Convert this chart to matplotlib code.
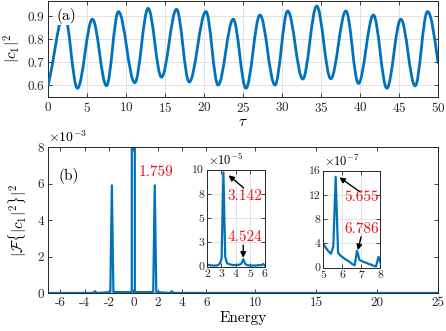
import numpy as np
import matplotlib
matplotlib.use("Agg")
import matplotlib.pyplot as plt
from matplotlib.path import Path
from matplotlib.patches import PathPatch

plt.rcParams['font.family'] = 'cmr10'
plt.rcParams['mathtext.fontset'] = 'cm'
plt.rcParams['axes.unicode_minus'] = False
plt.rcParams['axes.formatter.use_mathtext'] = True

blue = '#0072BD'
red = '#e8141c'

# ---- (a) |c1|^2 vs tau : extrema ----
tau_pts = [0, 2.1, 3.77, 5.7, 7.5, 9.03, 11.13, 12.84, 14.55, 16.48, 18.1, 20.25,
           21.8, 23.75, 25.38, 27.18, 29.1, 30.73, 32.66, 34.45, 36.25, 38.2,
           39.8, 41.72, 43.44, 45.24, 47.07, 48.65, 50]
c1_pts = [0.60, 0.91, 0.586, 0.886, 0.597, 0.919, 0.61, 0.933, 0.634, 0.929,
          0.613, 0.919, 0.60, 0.886, 0.586, 0.904, 0.60, 0.922, 0.626, 0.943,
          0.627, 0.922, 0.607, 0.904, 0.586, 0.886, 0.596, 0.919, 0.697]
# slope of the curve at each point (0 at the turning points)
c1_slope = [0.12] + [0.0] * (len(tau_pts) - 2) + [-0.25]

# ---- (b) spectrum, values in units of 1e-3 ----
E_main = [-7.0, -3.393, -3.267, -3.142, -3.016, -2.890, -1.885, -1.759, -1.634,
          -0.126, 0.0, 0.126, 1.634, 1.759, 1.885, 2.890, 3.016, 3.142, 3.267,
          3.393, 25.0]
S_main = [0.0, 0.003, 0.01, 0.097, 0.008, 0.003, 0.05, 5.9, 0.05, 0.05, 580.0,
          0.05, 0.05, 5.9, 0.05, 0.003, 0.008, 0.097, 0.01, 0.003, 0.0]

# inset 1, units of 1e-5
E_in1 = [2.011, 2.136, 2.262, 2.388, 2.513, 2.639, 2.765, 2.890, 3.016, 3.142,
         3.267, 3.393, 3.519, 3.644, 3.770, 3.896, 4.021, 4.147, 4.273, 4.398,
         4.524, 4.650, 4.775, 4.901, 5.027, 5.152, 5.278, 5.404, 5.529, 5.655,
         5.781, 5.906, 6.032]
S_in1 = [0.2, 0.15, 0.12, 0.1, 0.1, 0.1, 0.15, 0.3, 0.8, 9.7, 1.0, 0.35, 0.25,
         0.2, 0.15, 0.15, 0.15, 0.15, 0.2, 0.3, 0.75, 0.3, 0.15, 0.12, 0.1, 0.1,
         0.1, 0.1, 0.12, 0.15, 0.12, 0.25, 0.1]

# inset 2, units of 1e-7
E_in2 = [5.027, 5.152, 5.278, 5.404, 5.529, 5.655, 5.781, 5.906, 6.032, 6.158,
         6.283, 6.409, 6.535, 6.660, 6.786, 6.912, 7.037, 7.163, 7.288, 7.414,
         7.540, 7.665, 7.791, 7.917, 8.042]
S_in2 = [3.8, 3.2, 2.7, 2.3, 3.5, 15.0, 2.5, 2.0, 1.7, 1.4, 1.2, 0.9, 0.6, 0.4,
         2.8, 1.3, 1.1, 0.9, 0.8, 0.6, 0.5, 0.3, 0.2, 1.8, 0.7]

W, H = 446, 331
fig = plt.figure(figsize=(W / 100, H / 100), dpi=100)


def box(l, t, r, b):
    return [l / W, 1 - b / H, (r - l) / W, (b - t) / H]


def style(ax, fs):
    ax.tick_params(direction='in', top=True, right=True, length=3, width=0.6,
                   labelsize=fs, colors='#262626', pad=3)
    for s in ax.spines.values():
        s.set_linewidth(0.7)
        s.set_color('#262626')


# ---------------- (a) ----------------
axa = fig.add_axes(box(48, 1, 438, 97))
verts = [(tau_pts[0], c1_pts[0])]
codes = [Path.MOVETO]
for i in range(len(tau_pts) - 1):
    k = 0.36 * (tau_pts[i + 1] - tau_pts[i])
    verts += [(tau_pts[i] + k, c1_pts[i] + c1_slope[i] * k),
              (tau_pts[i + 1] - k, c1_pts[i + 1] - c1_slope[i + 1] * k),
              (tau_pts[i + 1], c1_pts[i + 1])]
    codes += [Path.CURVE4] * 3
axa.add_patch(PathPatch(Path(verts, codes), fill=False, edgecolor=blue, lw=2,
                        capstyle='round', joinstyle='round', zorder=3))
axa.set_xlim(0, 50)
axa.set_ylim(0.548, 0.965)
axa.set_xticks(range(0, 51, 5))
axa.set_yticks([0.6, 0.7, 0.8, 0.9])
axa.set_yticklabels(['0.6', '0.7', '0.8', '0.9'])
axa.grid(True, color='#dedede', lw=0.6)
axa.set_axisbelow(True)
style(axa, 9.5)
axa.set_xlabel(r'$\tau$', fontsize=11, labelpad=0)
axa.set_ylabel(r'$|c_1|^2$', fontsize=11, labelpad=3)
axa.text(0.048, 0.84, '(a)', transform=axa.transAxes, fontsize=11, ha='center',
         va='center', zorder=5,
         bbox=dict(facecolor='white', edgecolor='none', pad=0.5))

# ---------------- (b) ----------------
axb = fig.add_axes(box(48, 147, 438, 293))
axb.plot(E_main, S_main, color=blue, lw=1.6)
axb.set_xlim(-7, 25)
axb.set_ylim(0, 8)
xt = [-6, -4, -2, 0, 2, 4, 6, 10, 15, 20, 25]
axb.set_xticks(xt)
axb.set_xticklabels([str(v) for v in xt])
axb.set_yticks([0, 2, 4, 6, 8])
axb.set_yticklabels(['0', '2', '4', '6', '8'])
style(axb, 9.5)
axb.set_xlabel('Energy', fontsize=11, labelpad=1)
axb.set_ylabel(r'$|\mathcal{F}\{|c_1|^2\}|^2$', fontsize=11, labelpad=6)
axb.text(0.0, 1.015, r'$\times 10^{-3}$', transform=axb.transAxes, fontsize=10,
         ha='left', va='bottom')
axb.text(0.052, 0.8, '(b)', transform=axb.transAxes, fontsize=11, ha='center',
         va='center')
axb.text(0.41, 6.63, '1.759', color=red, fontsize=11, ha='left', va='center')

# inset 1
ax1 = fig.add_axes(box(207, 169.5, 264.5, 266.5))
ax1.plot(E_in1, S_in1, color=blue, lw=1.6)
ax1.set_xlim(2, 6)
ax1.set_ylim(0, 10)
ax1.set_xticks([2, 3, 4, 5, 6])
ax1.set_xticklabels(['2', '3', '4', '5', '6'])
ax1.set_yticks([0, 2.5, 5, 7.5, 10])
ax1.set_yticklabels(['0', '3', '5', '8', '10'])
ax1.grid(True, color='#dedede', lw=0.6)
ax1.set_axisbelow(True)
style(ax1, 8.5)
ax1.tick_params(pad=2)
ax1.text(0.02, 1.015, r'$\times 10^{-5}$', transform=ax1.transAxes, fontsize=9,
         ha='left', va='bottom')
ax1.annotate('', xy=(3.5, 9.4), xytext=(4.55, 8.1),
             arrowprops=dict(arrowstyle='-|>', color='k', lw=1, mutation_scale=8,
                             shrinkA=0, shrinkB=0))
ax1.text(4.65, 7.3, '3.142', color=red, fontsize=11, ha='center', va='center')
ax1.text(4.65, 3.05, '4.524', color=red, fontsize=11, ha='center', va='center')
ax1.annotate('', xy=(4.52, 0.9), xytext=(4.52, 2.2),
             arrowprops=dict(arrowstyle='-|>', color='k', lw=1, mutation_scale=8,
                             shrinkA=0, shrinkB=0))

# inset 2
ax2 = fig.add_axes(box(323.3, 170.7, 380, 267.7))
ax2.plot(E_in2, S_in2, color=blue, lw=1.6)
ax2.set_xlim(5, 8)
ax2.set_ylim(0, 16)
ax2.set_xticks([5, 6, 7, 8])
ax2.set_xticklabels(['5', '6', '7', '8'])
ax2.set_yticks([0, 4, 8, 12, 16])
ax2.set_yticklabels(['0', '4', '8', '12', '16'])
ax2.grid(True, color='#dedede', lw=0.6)
ax2.set_axisbelow(True)
style(ax2, 8.5)
ax2.tick_params(pad=2)
ax2.text(0.02, 1.015, r'$\times 10^{-7}$', transform=ax2.transAxes, fontsize=9,
         ha='left', va='bottom')
ax2.annotate('', xy=(5.85, 14.9), xytext=(6.95, 12.5),
             arrowprops=dict(arrowstyle='-|>', color='k', lw=1, mutation_scale=8,
                             shrinkA=0, shrinkB=0))
ax2.text(7.03, 11.6, '5.655', color=red, fontsize=11, ha='center', va='center')
ax2.text(7.03, 6.3, '6.786', color=red, fontsize=11, ha='center', va='center')
ax2.annotate('', xy=(6.83, 2.9), xytext=(7.0, 5.1),
             arrowprops=dict(arrowstyle='-|>', color='k', lw=1, mutation_scale=8,
                             shrinkA=0, shrinkB=0))

fig.savefig('out.png', dpi=100)
